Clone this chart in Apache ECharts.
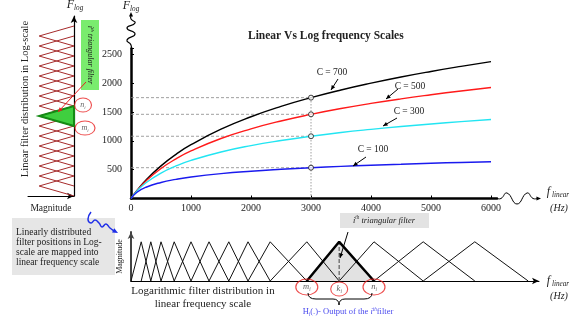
<!DOCTYPE html>
<html>
<head>
<meta charset="utf-8">
<script src="https://cdn.jsdelivr.net/npm/echarts@6/dist/echarts.min.js"></script>
<style>
    html, body {margin: 0; padding: 0; background: #fff;}
    #chart {width: 576px; height: 325px;}
</style>
</head>
<body>
<div id="chart"></div>
<script>
    // main chart: log frequency vs linear frequency for several C
    var freqHz = [0, 100, 250, 500, 750, 1000, 1500, 2000, 2500, 3000, 3500, 4000, 4500, 5000, 5500, 6000];
    var logC700 = [0, 140, 321, 566, 765, 932, 1202, 1417, 1596, 1748, 1881, 1999, 2106, 2202, 2290, 2372];
    var logC500 = [0, 137, 304, 520, 687, 824, 1040, 1207, 1344, 1459, 1560, 1648, 1727, 1798, 1864, 1924];
    var logC300 = [0, 129, 273, 441, 564, 660, 806, 917, 1005, 1079, 1143, 1198, 1248, 1292, 1333, 1370];
    var logC100 = [0, 108, 195, 278, 332, 373, 431, 473, 506, 534, 557, 577, 594, 611, 625, 638];
    var curveNames = ['C = 700', 'C = 500', 'C = 300', 'C = 100'];
    var probeHz = 3000;

    // left: filters spaced linearly on the log scale
    var logPoints = [0, 1, 2, 3, 4, 5, 6, 7, 8, 9, 10, 11, 12, 13, 14, 15, 16, 17];
    var logHighlight = 8;

    // bottom: same filters mapped onto linear frequency (Hz)
    var linPoints = [0, 170, 330, 500, 720, 1000, 1300, 1630, 1950, 2320, 2930, 3470, 4050, 4870, 5730, 6620];
    var linHighlight = 11;

    var serif = '"Liberation Serif", "DejaVu Serif", serif';
    var chart = echarts.init(document.getElementById('chart'));

    function arrowHead(x, y, ang, size, color) {
        var a1 = ang + Math.PI - 0.42, a2 = ang + Math.PI + 0.42;
        return {
            type: 'polygon', z: 100,
            shape: {points: [[x, y], [x + size * Math.cos(a1), y + size * Math.sin(a1)], [x + size * Math.cos(a2), y + size * Math.sin(a2)]]},
            style: {fill: color}
        };
    }
    function arrow(x1, y1, x2, y2, color, w) {
        var ang = Math.atan2(y2 - y1, x2 - x1);
        return [
            {type: 'line', z: 100, shape: {x1: x1, y1: y1, x2: x2, y2: y2}, style: {stroke: color, lineWidth: w}},
            arrowHead(x2, y2, ang, 5, color)
        ];
    }
    function txt(x, y, text, size, opts) {
        opts = opts || {};
        return {
            type: 'text', z: 100, x: x, y: y, rotation: opts.rotation || 0,
            style: {
                text: text, fill: opts.color || '#222',
                font: (opts.style || '') + ' ' + size + 'px ' + serif,
                textAlign: opts.align || 'center', align: opts.align || 'center',
                textVerticalAlign: 'middle', verticalAlign: 'middle',
                rich: opts.rich
            }
        };
    }
    // rich styles for sub/superscripts (color for labels, fill for graphic text)
    function subRich(size, color) {
        var c = color || '#222';
        function st(o) { o.fontFamily = serif; o.color = c; o.fill = c; return o; }
        return {
            v: st({fontStyle: 'italic', fontSize: size, lineHeight: size + 2}),
            s: st({fontStyle: 'italic', fontSize: size * 0.6, lineHeight: size * 0.6, verticalAlign: 'bottom'}),
            p: st({fontStyle: 'italic', fontSize: size * 0.6, lineHeight: size * 0.6, verticalAlign: 'top'}),
            t: st({fontSize: size, lineHeight: size + 2}),
            ti: st({fontStyle: 'italic', fontSize: size, lineHeight: size + 2})
        };
    }

    var series = [];
    var curves = [logC700, logC500, logC300, logC100];
    var curveColors = ['#000000', '#ff1a1a', '#22e5f2', '#1a1aee'];
    var probeIdx = freqHz.indexOf(probeHz);

    // guide lines
    var topProbe = 0;
    curves.forEach(function (c) {
        var v = c[probeIdx];
        topProbe = Math.max(topProbe, v);
        series.push({
            type: 'line', xAxisIndex: 0, yAxisIndex: 0, symbol: 'none', silent: true, z: 1,
            data: [[0, v], [probeHz, v]],
            lineStyle: {color: '#888', width: 0.8, type: [3, 2]}
        });
    });
    series.push({
        type: 'line', xAxisIndex: 0, yAxisIndex: 0, symbol: 'none', silent: true, z: 1,
        data: [[probeHz, 0], [probeHz, topProbe]],
        lineStyle: {color: '#888', width: 0.8, type: [1.5, 1.5]}
    });
    curves.forEach(function (c, k) {
        series.push({
            name: curveNames[k], type: 'line', xAxisIndex: 0, yAxisIndex: 0,
            smooth: true, symbol: 'none', z: 3,
            data: freqHz.map(function (f, i) { return [f, c[i]]; }),
            lineStyle: {color: curveColors[k], width: 1.4}
        });
    });
    series.push({
        type: 'scatter', xAxisIndex: 0, yAxisIndex: 0, z: 5, symbolSize: 5,
        data: curves.map(function (c) { return [probeHz, c[probeIdx]]; }),
        itemStyle: {color: '#fff', borderColor: '#111', borderWidth: 1}
    });

    // left filter bank
    for (var i = 1; i < logPoints.length - 1; i++) {
        series.push({
            type: 'line', xAxisIndex: 1, yAxisIndex: 1, symbol: 'none', z: 2,
            data: [[0, logPoints[i - 1]], [1, logPoints[i]], [0, logPoints[i + 1]]],
            lineStyle: {color: '#a52a2a', width: 1}
        });
    }
    var hl = logPoints.indexOf(logHighlight);
    series.push({
        type: 'custom', xAxisIndex: 1, yAxisIndex: 1, z: 4,
        data: [[logPoints[hl - 1], logPoints[hl], logPoints[hl + 1]]],
        renderItem: function (params, api) {
            var p0 = api.coord([0, api.value(0)]);
            var p1 = api.coord([1, api.value(1)]);
            var p2 = api.coord([0, api.value(2)]);
            return {
                type: 'polygon', shape: {points: [p0, p1, p2]},
                style: {fill: '#3fcf3f', stroke: '#148a14', lineWidth: 2}
            };
        }
    });
    series.push({
        type: 'scatter', xAxisIndex: 1, yAxisIndex: 1, z: 6, clip: false,
        data: [
            {value: [0, logPoints[hl + 1]], name: 'n', symbolSize: [17, 14], symbolOffset: [9, -1]},
            {value: [0, logPoints[hl - 1]], name: 'm', symbolSize: [20, 14], symbolOffset: [11, 2]}
        ],
        itemStyle: {color: 'rgba(255,255,255,0)', borderColor: '#e82020', borderWidth: 1},
        label: {
            show: true, position: 'inside',
            formatter: function (p) { return '{v|' + p.name + '}{s|i}'; },
            rich: subRich(8, '#333')
        }
    });

    // bottom filter bank
    series.push({
        type: 'line', xAxisIndex: 2, yAxisIndex: 2, symbol: 'none', z: 1,
        data: [[linPoints[linHighlight - 1], 0], [linPoints[linHighlight], 1], [linPoints[linHighlight + 1], 0]],
        lineStyle: {width: 0},
        areaStyle: {color: '#e2e2e2', opacity: 1}
    });
    for (var j = 1; j < linPoints.length - 1; j++) {
        series.push({
            type: 'line', xAxisIndex: 2, yAxisIndex: 2, symbol: 'none', z: 2,
            data: [[linPoints[j - 1], 0], [linPoints[j], 1], [linPoints[j + 1], 0]],
            lineStyle: {color: '#111', width: 1}
        });
    }
    series.push({
        type: 'line', xAxisIndex: 2, yAxisIndex: 2, symbol: 'none', z: 3,
        data: [[linPoints[linHighlight], 0], [linPoints[linHighlight], 1]],
        lineStyle: {color: '#777', width: 1.5, type: [4, 2]}
    });
    series.push({
        type: 'line', xAxisIndex: 2, yAxisIndex: 2, symbol: 'none', z: 4,
        data: [[linPoints[linHighlight - 1], 0], [linPoints[linHighlight], 1], [linPoints[linHighlight + 1], 0]],
        lineStyle: {color: '#000', width: 2.5}
    });
    series.push({
        type: 'scatter', xAxisIndex: 2, yAxisIndex: 2, z: 6, clip: false,
        data: [
            {value: [linPoints[linHighlight - 1], 0], name: 'm', symbolSize: [22, 16], symbolOffset: [0, 6]},
            {value: [linPoints[linHighlight], 0], name: 'k', symbolSize: [17, 14], symbolOffset: [0, 8]},
            {value: [linPoints[linHighlight + 1], 0], name: 'n', symbolSize: [22, 16], symbolOffset: [0, 6]}
        ],
        itemStyle: {color: 'rgba(255,255,255,0)', borderColor: '#e82020', borderWidth: 1},
        label: {
            show: true, position: 'inside',
            formatter: function (p) { return '{v|' + p.name + '}{s|i}'; },
            rich: subRich(8.5, '#333')
        }
    });

    var g = [];
    // main axis breaks
    g.push({type: 'polyline', z: 100, shape: {smooth: 0.6, points: [[131, 49], [131, 45], [127, 40], [135, 34], [127, 28], [135, 23], [131, 19], [131, 16]]}, style: {stroke: '#000', lineWidth: 1.2, fill: null}});
    g.push(arrowHead(131, 12, -Math.PI / 2, 5, '#000'));
    g.push({type: 'polyline', z: 100, shape: {smooth: 0.5, points: [[497, 198.5], [501, 198.5], [507, 193], [517, 204], [527, 193], [533, 198.5], [537, 198.5]]}, style: {stroke: '#000', lineWidth: 1, fill: null}});
    g.push(arrowHead(541, 198.5, 0, 5, '#000'));
    g.push(txt(558, 192, '{v|f}{s| linear}', 12, {rich: subRich(12)}));
    g.push(txt(559, 208, '(Hz)', 10, {style: 'italic'}));
    g.push(txt(558, 281, '{v|f}{s| linear}', 12, {rich: subRich(12)}));
    g.push(txt(559, 296, '(Hz)', 10, {style: 'italic'}));
    g.push(txt(131, 6, '{v|F}{s|log}', 12, {rich: subRich(12)}));
    g.push(txt(75, 5, '{v|F}{s|log}', 12, {rich: subRich(12)}));

    // curve labels
    g.push(txt(332, 72, curveNames[0], 9.5));
    g.push(txt(410, 86, curveNames[1], 9.5));
    g.push(txt(409, 111, curveNames[2], 9.5));
    g.push(txt(373, 149, curveNames[3], 9.5));
    g = g.concat(arrow(338, 79, 331, 90, '#000', 1));
    g = g.concat(arrow(398, 89, 386, 99, '#000', 1));
    g = g.concat(arrow(397, 118, 383, 126, '#000', 1));
    g = g.concat(arrow(366, 157, 353, 166, '#000', 1));

    // left annotations
    g.push(txt(25, 99, 'Linear filter distribution in Log-scale', 10.5, {rotation: Math.PI / 2}));
    g.push({type: 'rect', z: 90, shape: {x: 81, y: 20, width: 18, height: 70}, style: {fill: '#7aec6e'}});
    g.push(txt(90, 55, '{ti|i}{p|th}{ti| triangular filter}', 8, {rotation: -Math.PI / 2, rich: subRich(8)}));
    g = g.concat(arrow(86, 82, 58, 112, '#e82020', 1));
    g.push({type: 'rect', z: 90, shape: {x: 12, y: 218, width: 103, height: 57}, style: {fill: '#e6e6e6'}});
    ['Linearly distributed', 'filter positions in Log-', 'scale are mapped into', 'linear frequency scale'].forEach(function (s, k) {
        g.push(txt(16, 232 + k * 10, s, 9.5, {align: 'left'}));
    });
    g.push({type: 'polyline', z: 100, shape: {smooth: 0.5, points: [[91, 212], [88, 219], [91, 223], [95, 220], [99, 223], [102, 227], [106, 224], [110, 228], [114, 231]]}, style: {stroke: '#1f2fe8', lineWidth: 1.5, fill: null}});
    g.push(arrowHead(118, 233, 0.5, 6, '#1f2fe8'));

    // bottom annotations
    g.push(txt(203, 291, 'Logarithmic filter distribution in', 11));
    g.push(txt(203, 304, 'linear frequency scale', 11));
    g.push({type: 'rect', z: 90, shape: {x: 340, y: 213, width: 89, height: 15}, style: {fill: '#e3e3e3'}});
    g.push(txt(384, 220.5, '{ti|i}{p|th}{ti| triangular filter}', 8.5, {rich: subRich(8.5)}));
    g = g.concat(arrow(348, 232, 340, 258, '#000', 1));
    [[[308, 293], [308, 299], [316, 299]], [[333, 299], [339, 299], [339, 305]], [[339, 305], [339, 299], [345, 299]], [[364, 299], [372, 299], [372, 293]]].forEach(function (q) {
        g.push({type: 'bezierCurve', z: 100, shape: {x1: q[0][0], y1: q[0][1], cpx1: q[1][0], cpy1: q[1][1], x2: q[2][0], y2: q[2][1]}, style: {stroke: '#000', lineWidth: 1, fill: null}});
    });
    g.push({type: 'line', z: 100, shape: {x1: 316, y1: 299, x2: 333, y2: 299}, style: {stroke: '#000', lineWidth: 1}});
    g.push({type: 'line', z: 100, shape: {x1: 345, y1: 299, x2: 364, y2: 299}, style: {stroke: '#000', lineWidth: 1}});
    g.push(txt(348, 312, '{t|H}{s|i}{t|(.)- Output of the }{ti|i}{p|th}{t|filter}', 8.5, {color: '#4a4aee', rich: subRich(8.5, '#4a4aee')}));

    chart.setOption({
        animation: false,
        title: {
            text: 'Linear Vs Log frequency Scales', left: 243, top: 25,
            textStyle: {fontFamily: serif, fontSize: 11.5, fontWeight: 'bold', color: '#222'}
        },
        grid: [
            {left: 131, right: 79, top: 48.5, bottom: 126.5},
            {left: 28, right: 502, top: 16, bottom: 129},
            {left: 131, right: 37, top: 232, bottom: 44}
        ],
        xAxis: [
            {
                gridIndex: 0, type: 'value', min: 0, max: 6100, interval: 1000,
                axisLine: {lineStyle: {color: '#000', width: 2.5}},
                axisTick: {inside: true, length: 3, lineStyle: {color: '#000'}},
                axisLabel: {
                    showMaxLabel: false, margin: 5, fontFamily: serif, fontSize: 10, color: '#222',
                    formatter: function (v) { return v % 1000 === 0 ? String(v) : ''; }
                },
                splitLine: {show: false}
            },
            {
                gridIndex: 1, type: 'value', min: 0, max: 1.32, inverse: true,
                name: 'Magnitude', nameLocation: 'middle', nameGap: 7,
                nameTextStyle: {fontFamily: serif, fontSize: 9.5, color: '#222'},
                axisLine: {symbol: ['none', 'arrow'], symbolSize: [5, 7], lineStyle: {color: '#000', width: 1}},
                axisTick: {show: false}, axisLabel: {show: false}, splitLine: {show: false}
            },
            {
                gridIndex: 2, type: 'value', min: 0, max: 6800,
                axisLine: {symbol: ['none', 'arrow'], symbolSize: [5, 7], lineStyle: {color: '#000', width: 1}},
                axisTick: {show: false}, axisLabel: {show: false}, splitLine: {show: false}
            }
        ],
        yAxis: [
            {
                gridIndex: 0, type: 'value', min: 0, max: 2600, interval: 500,
                axisLine: {lineStyle: {color: '#000', width: 2.5}},
                axisTick: {inside: true, length: 3, lineStyle: {color: '#000'}},
                axisLabel: {
                    margin: 9, fontFamily: serif, fontSize: 10, color: '#222',
                    formatter: function (v) { return (v > 0 && v % 500 === 0) ? String(v) : ''; }
                },
                splitLine: {show: false}
            },
            {
                gridIndex: 1, type: 'value', min: 0, max: 18, position: 'right',
                axisLine: {onZero: false, symbol: ['none', 'arrow'], symbolSize: [5, 7], lineStyle: {color: '#000', width: 1.2}},
                axisTick: {show: false}, axisLabel: {show: false}, splitLine: {show: false}
            },
            {
                gridIndex: 2, type: 'value', min: 0, max: 1.25,
                name: 'Magnitude', nameLocation: 'middle', nameGap: 7, nameRotate: 90,
                nameTextStyle: {fontFamily: serif, fontSize: 8, color: '#222'},
                axisLine: {symbol: ['none', 'arrow'], symbolSize: [5, 7], lineStyle: {color: '#444', width: 2}},
                axisTick: {show: false}, axisLabel: {show: false}, splitLine: {show: false}
            }
        ],
        series: series,
        graphic: {elements: g}
    });
</script>
</body>
</html>
